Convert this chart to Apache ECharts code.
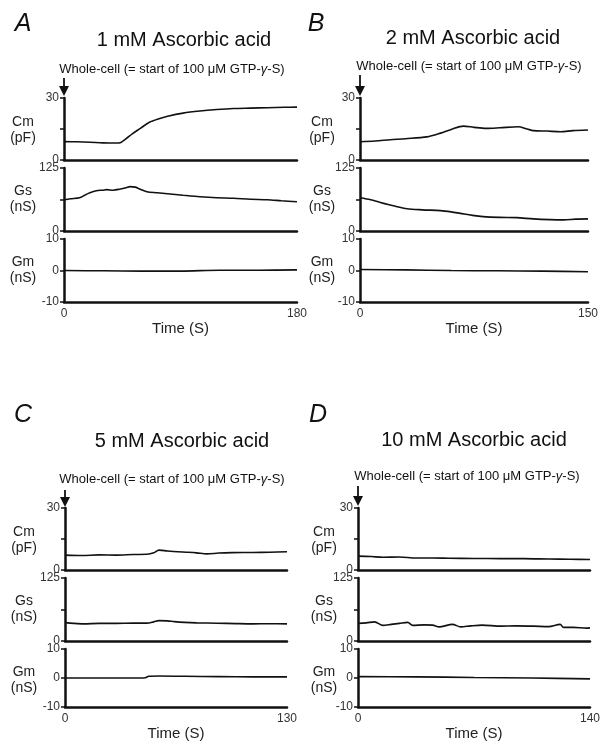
<!DOCTYPE html>
<html>
<head>
<meta charset="utf-8">
<script src="https://cdn.jsdelivr.net/npm/echarts@6/dist/echarts.min.js"></script>
<style>html,body{margin:0;padding:0;background:#fff}#c{width:609px;height:742px}</style>
</head>
<body>
<div id="c"></div>
<script>
// ---- data (time in s, value) ----
const durations = [180, 150, 130, 140];
const panelLetters = ['A', 'B', 'C', 'D'];
const panelTitles = ['1 mM Ascorbic acid', '2 mM Ascorbic acid', '5 mM Ascorbic acid', '10 mM Ascorbic acid'];
const cmTicks = [0, 30];
const gsTicks = [0, 125];
const gmTicks = [-10, 10];

const cmA = [[0,8.9],[10,8.8],[20,8.6],[30,8.3],[40,8.2],[44,8.5],[48,10.3],[53,12.8],[59,15.3],[66,18.3],[74,20.1],[80,21.2],[92,22.7],[105,23.7],[118,24.4],[131,24.9],[144,25.1],[157,25.3],[170,25.5],[180,25.6]];
const gsA = [[0,62],[5,64],[12,66],[16,71],[20,76],[25,80],[30,81],[33,82],[38,81],[43,83],[48,86],[51,88],[55,87],[58,84],[64,78],[72,76],[80,74],[92,71],[105,68],[118,66],[131,65],[144,63],[157,62],[168,60],[180,58]];
const gmA = [[0,0],[30,-0.1],[60,-0.2],[90,-0.2],[120,0.1],[150,0.1],[180,0.2]];

const cmB = [[0,8.8],[10,9.2],[20,9.8],[30,10.3],[44,11.2],[53,13],[60,14.8],[68,16.4],[75,15.8],[83,15.3],[92,15.6],[104,16.1],[110,15],[114,14.2],[123,14],[132,13.7],[140,14.2],[150,14.5]];
const gsB = [[0,66],[7,62],[13,57],[22,50],[31,44],[41,42],[53,40.5],[60,38],[66,35],[74,31],[81,28.5],[92,27],[103,26.5],[114,24],[125,22.5],[134,22],[142,23.5],[150,24]];
const gmB = [[0,0.3],[30,0.2],[60,0],[90,-0.1],[120,-0.2],[150,-0.4]];

const cmC = [[0,7.2],[10,7.0],[20,7.3],[30,7.2],[40,7.5],[48,7.6],[52,8.3],[55,9.6],[60,9.2],[66,8.8],[71,8.6],[77,8.3],[83,7.8],[90,8.2],[98,8.4],[110,8.5],[120,8.6],[130,8.8]];
const gsC = [[0,36.5],[5,35],[11,34],[20,35],[30,35],[40,35.5],[48,35.5],[52,38],[55,40.5],[60,40],[64,38.5],[70,37],[77,36],[89,35.3],[100,34.5],[110,34],[120,34.2],[130,34]];
const gmC = [[0,0],[20,0],[40,0],[47,0.1],[49,0.6],[55,0.7],[70,0.6],[90,0.5],[110,0.4],[130,0.4]];

const cmD = [[0,6.7],[8,6.5],[15,6.2],[25,6.3],[35,5.8],[45,5.8],[55,5.7],[70,5.6],[86,5.5],[100,5.5],[115,5.3],[128,5.2],[140,5.1]];
const gsD = [[0,35],[5,36],[10,38],[15,31],[20,33],[25,35],[30,37],[33,31],[40,32],[45,31.5],[49,28],[57,33],[62,28],[68,30],[75,31.5],[86,29.5],[95,30],[106,29.5],[115,28.5],[122,33],[124,27],[130,27],[138,25.5],[140,26]];
const gmD = [[0,0.5],[35,0.4],[70,0.2],[105,0],[140,-0.3]];

const traces = [[cmA, gsA, gmA], [cmB, gsB, gmB], [cmC, gsC, gmC], [cmD, gsD, gmD]];

// ---- layout ----
const FONT = 'Liberation Sans, Arial, sans-serif';
const layout = [
  {left: 64, width: 233, tops: [98, 168, 239], hs: [62, 63, 63], letter: [23, 24], title: [184, 40], wc: [172, 69], arrow: [64, 78, 96], lab: 23},
  {left: 360, width: 228, tops: [98, 168, 239], hs: [62, 63, 63], letter: [316, 24], title: [473, 38], wc: [469, 66], arrow: [360, 75, 96], lab: 322},
  {left: 65, width: 222, tops: [508, 578, 649], hs: [62, 63, 63], letter: [23, 415], title: [182, 441], wc: [172, 479], arrow: [65, 490, 507], lab: 24},
  {left: 358, width: 232, tops: [508, 578, 649], hs: [62, 63, 63], letter: [318, 415], title: [474, 440], wc: [467, 476], arrow: [358, 486, 506], lab: 324}
];
const rowDefs = [
  {ticks: cmTicks, interval: 15, name: 'Cm\n(pF)'},
  {ticks: gsTicks, interval: 62.5, name: 'Gs\n(nS)'},
  {ticks: gmTicks, interval: 10, name: 'Gm\n(nS)'}
];

const grids = [], xAxes = [], yAxes = [], series = [], graphics = [];
const AX = '#111', LBL = '#333';

layout.forEach((L, p) => {
  const T = durations[p];
  rowDefs.forEach((R, r) => {
    const idx = grids.length;
    grids.push({left: L.left, top: L.tops[r], width: L.width, height: L.hs[r]});
    const last = r === 2;
    xAxes.push({
      type: 'value', gridIndex: idx, min: 0, max: T, interval: T,
      axisLine: {show: true, onZero: false, lineStyle: {color: AX, width: 2.5}},
      axisTick: {show: false}, splitLine: {show: false},
      axisLabel: {show: last, color: LBL, fontSize: 12, fontFamily: FONT, margin: 6, showMinLabel: true, showMaxLabel: true},
      name: last ? 'Time (S)' : '', nameLocation: 'middle', nameGap: 12,
      nameTextStyle: {color: '#222', fontSize: 15, fontFamily: FONT}
    });
    const lo = R.ticks[0], hi = R.ticks[1];
    yAxes.push({
      type: 'value', gridIndex: idx, min: lo, max: hi, interval: R.interval,
      axisLine: {show: true, lineStyle: {color: AX, width: 2.5}},
      axisTick: {show: true, inside: false, length: 4, lineStyle: {color: AX, width: 1.5}},
      splitLine: {show: false},
      axisLabel: {color: LBL, fontSize: 12, fontFamily: FONT, margin: 5,
        formatter: v => (r === 2 || v === lo || v === hi) ? String(v) : ''}
    });
    series.push({
      type: 'line', xAxisIndex: idx, yAxisIndex: idx, data: traces[p][r],
      showSymbol: false, smooth: 0.3, silent: true,
      lineStyle: {color: '#111', width: 1.6}
    });
    graphics.push({
      type: 'text', x: L.lab, y: L.tops[r] + L.hs[r] / 2 + (r === 0 ? 1 : 0),
      style: {text: R.name, fill: '#222', font: '14px ' + FONT, align: 'center', verticalAlign: 'middle', lineHeight: 16}
    });
  });
  graphics.push({
    type: 'text', x: L.letter[0], y: L.letter[1],
    style: {text: panelLetters[p], fill: '#111', font: 'italic 25px ' + FONT, align: 'center', verticalAlign: 'middle'}
  });
  graphics.push({
    type: 'text', x: L.title[0], y: L.title[1],
    style: {text: panelTitles[p], fill: '#111', font: '20px ' + FONT, align: 'center', verticalAlign: 'middle'}
  });
  graphics.push({
    type: 'text', x: L.wc[0], y: L.wc[1],
    style: {text: 'Whole-cell (= start of 100 μM GTP-{g|γ}-S)', fill: '#111', font: '13px ' + FONT,
      align: 'center', verticalAlign: 'middle',
      rich: {g: {fontStyle: 'italic', fontSize: 13, fontFamily: FONT, fill: '#111'}}}
  });
  const ax = L.arrow[0], ay0 = L.arrow[1], ay1 = L.arrow[2];
  graphics.push({type: 'line', shape: {x1: ax, y1: ay0, x2: ax, y2: ay1 - 8}, style: {stroke: '#111', lineWidth: 1.8}});
  graphics.push({type: 'polygon', shape: {points: [[ax - 5, ay1 - 10], [ax + 5, ay1 - 10], [ax, ay1]]}, style: {fill: '#111'}});
});

const chart = echarts.init(document.getElementById('c'), null, {renderer: 'canvas'});
chart.setOption({
  animation: false,
  backgroundColor: '#fff',
  grid: grids, xAxis: xAxes, yAxis: yAxes, series: series, graphic: graphics
});
</script>
</body>
</html>
